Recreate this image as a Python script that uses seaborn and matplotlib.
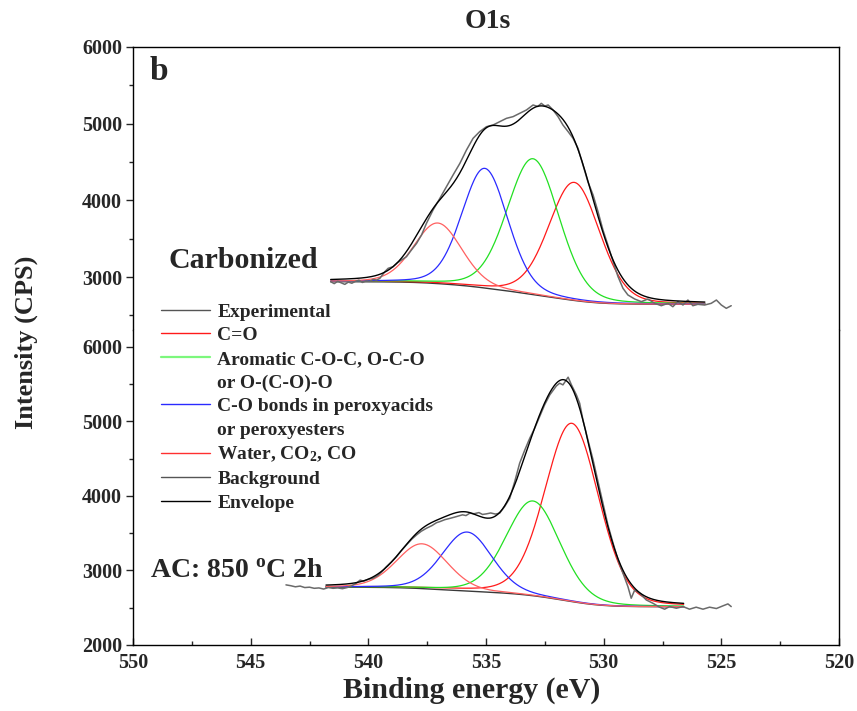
import numpy as np
import pandas as pd
import matplotlib
matplotlib.use("Agg")
import matplotlib.pyplot as plt
import seaborn as sns
from matplotlib.lines import Line2D
from matplotlib.ticker import MultipleLocator

# ---------------- data ----------------
# Carbonized sample, O1s survey (binding energy in eV, counts per second)
top_exp_be = [541.60, 541.45, 541.30, 541.15, 541.00, 540.85, 540.70, 540.55, 540.40, 540.25,
              540.10, 539.95, 539.80, 539.65, 539.51, 539.30, 539.16, 538.95, 538.80, 538.59,
              538.38, 538.17, 537.95, 537.74, 537.53, 537.25, 536.96, 536.68, 536.40, 536.11,
              535.83, 535.55, 535.27, 534.98, 534.70, 534.42, 534.13, 533.85, 533.57, 533.28,
              533.00, 532.80, 532.65, 532.50, 532.36, 532.15, 531.94, 531.73, 531.51, 531.30,
              531.09, 530.88, 530.67, 530.45, 530.24, 530.03, 529.82, 529.60, 529.39, 529.18,
              528.97, 528.68, 528.40, 528.12, 527.83, 527.55, 527.27, 527.06, 526.85, 526.63,
              526.42, 526.21, 526.00, 525.71, 525.43, 525.21, 525.00, 524.79, 524.58]
top_exp_cps = [2940, 2915, 2945, 2925, 2905, 2935, 2920, 2945, 2960, 2930,
               2950, 2945, 2970, 2962, 2984, 3070, 3114, 3136, 3179, 3223,
               3266, 3353, 3440, 3549, 3701, 3875, 4027, 4179, 4331, 4483,
               4657, 4809, 4896, 4961, 4983, 5026, 5070, 5092, 5135, 5179,
               5244, 5225, 5265, 5230, 5244, 5179, 5092, 4983, 4896, 4809,
               4679, 4462, 4244, 4070, 3853, 3614, 3418, 3201, 3006, 2854,
               2767, 2714, 2680, 2714, 2658, 2627, 2658, 2614, 2680, 2636,
               2701, 2627, 2645, 2636, 2658, 2701, 2636, 2593, 2627]

# AC: 850 °C 2h sample
bot_exp_be = [543.50, 543.30, 543.10, 542.90, 542.70, 542.50, 542.30, 542.10, 541.90, 541.70,
              541.50, 541.30, 541.10, 540.90, 540.70, 540.50, 540.35, 540.20, 540.00, 539.80,
              539.60, 539.40, 539.23, 539.00, 538.80, 538.60, 538.38, 538.15, 537.95, 537.75,
              537.53, 537.30, 537.10, 536.96, 536.75, 536.50, 536.26, 536.00, 535.85, 535.69,
              535.50, 535.30, 535.15, 534.98, 534.80, 534.60, 534.42, 534.20, 533.99, 533.78,
              533.57, 533.35, 533.14, 532.93, 532.72, 532.51, 532.29, 532.01, 531.87, 531.73,
              531.51, 531.37, 531.16, 531.02, 530.88, 530.67, 530.45, 530.24, 530.03, 529.82,
              529.60, 529.39, 529.18, 528.97, 528.83, 528.68, 528.47, 528.19, 527.91, 527.62,
              527.41, 527.20, 526.91, 526.63, 526.35, 526.07, 525.78, 525.50, 525.21, 524.93,
              524.72, 524.58]
bot_exp_cps = [2806, 2795, 2780, 2790, 2770, 2775, 2760, 2765, 2750, 2770,
               2760, 2765, 2755, 2770, 2795, 2830, 2870, 2855, 2880, 2895,
               2930, 2990, 3051, 3120, 3185, 3265, 3342, 3420, 3476, 3525,
               3565, 3600, 3640, 3654, 3680, 3700, 3721, 3745, 3735, 3767,
               3760, 3775, 3750, 3758, 3770, 3755, 3767, 3860, 3968, 4190,
               4437, 4615, 4772, 4906, 5062, 5219, 5353, 5473, 5509, 5487,
               5590, 5487, 5353, 5241, 5017, 4749, 4481, 4190, 3900, 3610,
               3364, 3141, 2962, 2783, 2627, 2738, 2694, 2604, 2560, 2507,
               2480, 2515, 2493, 2515, 2480, 2507, 2480, 2507, 2489, 2525,
               2551, 2515]

# Fitted components: C=O, aromatic C-O-C / O-C-O, peroxy C-O, water/CO2/CO
component_names = ["C=O", "Aromatic", "Peroxy", "Water"]
top_centers = [531.25, 533.00, 535.05, 537.05]
top_heights = [1540, 1770, 1560, 790]
top_fwhm = [2.55, 2.60, 2.30, 2.40]
bot_centers = [531.35, 533.00, 535.80, 537.72]
bot_heights = [2390, 1270, 790, 600]
bot_fwhm = [2.70, 2.70, 2.50, 2.55]

# Shirley background: fit window and end levels (low-BE end, high-BE end)
top_fit_window = [525.7, 541.6]
top_bg_levels = [2645, 2940]
bot_fit_window = [526.6, 541.8]
bot_bg_levels = [2512, 2775]

# ---------------- style ----------------
sns.set_style("ticks")
plt.rcParams["font.family"] = ["Liberation Serif", "DejaVu Serif"]
plt.rcParams["font.weight"] = "bold"
plt.rcParams["mathtext.fontset"] = "custom"
plt.rcParams["mathtext.rm"] = "Liberation Serif:bold"
plt.rcParams["mathtext.bf"] = "Liberation Serif:bold"
plt.rcParams["mathtext.it"] = "Liberation Serif:bold"
plt.rcParams["mathtext.default"] = "bf"
plt.rcParams["axes.linewidth"] = 1.0

colors = {"C=O": "#ff1a1a", "Aromatic": "#22e022", "Peroxy": "#2a2aff", "Water": "#ff6060"}
exp_color = "#6a6a6a"
bg_color = "#3a3a3a"
env_color = "#000000"


def gl_peak(be, center, height, fwhm, mix=0.18):
    sigma = fwhm / 2.3548
    gamma = fwhm / 2.0
    g = np.exp(-(be - center) ** 2 / (2 * sigma ** 2))
    lor = 1.0 / (1.0 + ((be - center) / gamma) ** 2)
    return height * ((1 - mix) * g + mix * lor)


def shirley(be, peak_sum, lo, hi):
    area = np.concatenate([[0.0], np.cumsum(0.5 * (peak_sum[1:] + peak_sum[:-1]) * np.diff(be))])
    return lo + (hi - lo) * area / area[-1]


def draw_panel(ax, exp_be, exp_cps, centers, heights, fwhms, window, bg_levels):
    be = np.linspace(window[0], window[1], 500)
    peaks = [gl_peak(be, c, h, w) for c, h, w in zip(centers, heights, fwhms)]
    total = np.sum(peaks, axis=0)
    bg = shirley(be, total, bg_levels[0], bg_levels[1])

    sns.lineplot(x=be, y=bg, ax=ax, color=bg_color, lw=1.0, sort=False, estimator=None)
    for name, p in zip(component_names, peaks):
        sns.lineplot(x=be, y=bg + p, ax=ax, color=colors[name], lw=0.9,
                     sort=False, estimator=None)
    df = pd.DataFrame({"be": exp_be, "cps": exp_cps})
    sns.lineplot(data=df, x="be", y="cps", ax=ax, color=exp_color, lw=1.1,
                 sort=False, estimator=None)
    sns.lineplot(x=be, y=bg + total, ax=ax, color=env_color, lw=1.0,
                 sort=False, estimator=None)


W, H = 857, 711
fig = plt.figure(figsize=(W / 100, H / 100), dpi=100)
left, right = 133 / W, 839 / W
y_top, y_mid, y_bot = 1 - 47 / H, 1 - 330 / H, 1 - 645 / H
ax_top = fig.add_axes([left, y_mid, right - left, y_top - y_mid])
ax_bot = fig.add_axes([left, y_bot, right - left, y_mid - y_bot])

draw_panel(ax_top, top_exp_be, top_exp_cps, top_centers, top_heights, top_fwhm,
           top_fit_window, top_bg_levels)
draw_panel(ax_bot, bot_exp_be, bot_exp_cps, bot_centers, bot_heights, bot_fwhm,
           bot_fit_window, bot_bg_levels)

for ax in (ax_top, ax_bot):
    ax.set_xlim(550, 520)
    ax.set_xlabel("")
    ax.set_ylabel("")
    ax.yaxis.set_major_locator(MultipleLocator(1000))
    ax.yaxis.set_minor_locator(MultipleLocator(500))
    ax.xaxis.set_major_locator(MultipleLocator(5))
    ax.xaxis.set_minor_locator(MultipleLocator(2.5))
    ax.tick_params(axis="y", which="major", direction="out", length=5, width=1,
                   labelsize=14.5, pad=3)
    ax.tick_params(axis="y", which="minor", direction="out", length=3, width=1)
    for s in ax.spines.values():
        s.set_color("black")

ax_top.set_ylim(6000 - 283 / 0.0767, 6000)
ax_bot.set_ylim(2000, 2000 + 315 / 0.0746)
ax_top.set_yticks([3000, 4000, 5000, 6000])
ax_bot.set_yticks([2000, 3000, 4000, 5000, 6000])
ax_top.set_yticklabels(["3000", "4000", "5000", "6000"], fontsize=14.5, fontweight="bold")
ax_bot.set_yticklabels(["2000", "3000", "4000", "5000", "6000"], fontsize=14.5, fontweight="bold")

ax_top.spines["bottom"].set_visible(False)
ax_top.tick_params(axis="x", which="both", bottom=False, labelbottom=False)
ax_bot.spines["top"].set_visible(False)
ax_bot.tick_params(axis="x", which="major", direction="in", length=5, width=1,
                   labelsize=14.5, pad=6)
ax_bot.tick_params(axis="x", which="minor", direction="in", length=3, width=1)
ax_bot.set_xticks([550, 545, 540, 535, 530, 525, 520])
ax_bot.set_xticklabels(["550", "545", "540", "535", "530", "525", "520"],
                       fontsize=14.5, fontweight="bold")

# panel annotations
ax_top.text(0.024, 0.912, "b", transform=ax_top.transAxes, fontsize=24,
            fontweight="bold", va="center", ha="left")
ax_top.text(0.0496, 0.247, "Carbonized", transform=ax_top.transAxes, fontsize=21.5,
            fontweight="bold", va="center", ha="left")
ax_bot.text(0.024, 0.238, "AC: 850 $^{o}$C 2h", transform=ax_bot.transAxes, fontsize=20,
            fontweight="bold", va="center", ha="left")

fig.text(488 / W, 1 - 22 / H, "O1s", fontsize=20, fontweight="bold", ha="center", va="center")
fig.text(472 / W, 1 - 690 / H, "Binding energy (eV)", fontsize=21.5, fontweight="bold",
         ha="center", va="center")
fig.text(26 / W, 1 - 342 / H, "Intensity (CPS)", fontsize=19, fontweight="bold",
         ha="center", va="center", rotation=90)

blank = Line2D([], [], color="none")
handles = [Line2D([], [], color="#555555", lw=1.0),
           Line2D([], [], color="#ff1a1a", lw=1.0),
           Line2D([], [], color="#7cf77c", lw=1.6),
           blank,
           Line2D([], [], color="#2a2aff", lw=1.0),
           blank,
           Line2D([], [], color="#ff3030", lw=1.0),
           Line2D([], [], color="#555555", lw=1.0),
           Line2D([], [], color="#000000", lw=1.0)]
labels = ["Experimental", "C=O", "Aromatic C-O-C, O-C-O", "or O-(C-O)-O",
          "C-O bonds in peroxyacids", "or peroxyesters", "Water, CO$_2$, CO",
          "Background", "Envelope"]
fig.legend(handles, labels, loc="upper left", bbox_to_anchor=(161 / W, 1 - 303 / H),
           frameon=False, prop={"weight": "bold", "size": 14},
           handlelength=2.5, handletextpad=0.4, labelspacing=0.31, borderpad=0,
           borderaxespad=0)

fig.savefig("out.png", dpi=100)
